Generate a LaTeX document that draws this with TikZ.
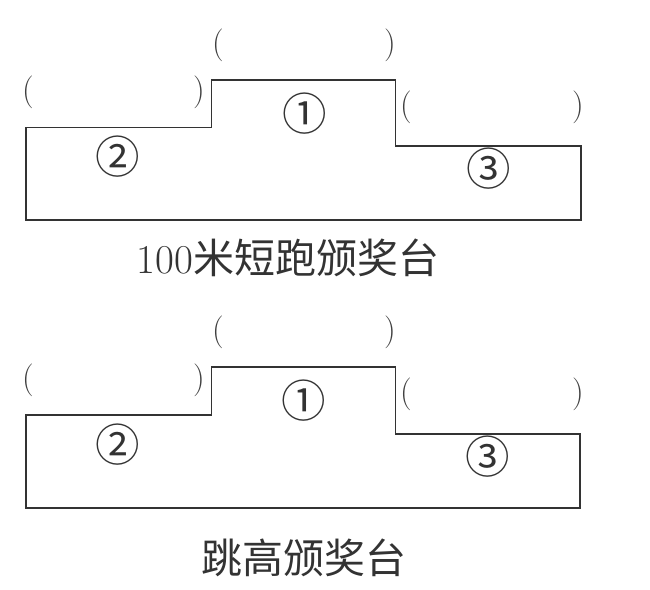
\documentclass[tikz,border=0pt]{standalone}
\usepackage{fontspec}
\newfontfamily\cjk{Noto Sans CJK SC}
\usetikzlibrary{positioning}

\begin{document}
\begin{tikzpicture}[
  x=0.03cm, y=-0.03cm,
  % Podium outline
  podium/.style={draw=black!80, line width=1.6pt, line join=miter},
  % Place numbers and brackets
  place/.style={inner sep=0pt, text=black!80, font=\cjk\fontsize{38}{40}\selectfont},
  bracket/.style={inner sep=0pt, text=black!75, font=\fontsize{28}{30}\selectfont},
  caption/.style={inner sep=0pt, text=black!80, font=\fontsize{35}{38}\selectfont}
]
\useasboundingbox (0,0) rectangle (650,589);

% 100m podium
\draw[podium] (26,220) -- (26,127.5) -- (211.5,127.5) -- (211.5,80) -- (395.5,80)
  -- (395.5,146) -- (581,146) -- (581,220) -- cycle;
\node[place] (firstA) at (305,114) {①};
\node[place] (secondA) at (118,157) {②};
\node[place] (thirdA) at (489,169) {③};
\node[bracket] (lbA) at (28,92) {(};
\node[bracket] (rbA) at (199,92) {)};
\node[bracket] (lfA) at (218,45) {(};
\node[bracket] (rfA) at (390,45) {)};
\node[bracket] (ltA) at (406,107) {(};
\node[bracket] (rtA) at (578,107) {)};
\node[caption] (capA) at (288,258) {100{\cjk 米短跑颁奖台}};

% High jump podium
\draw[podium] (26,508) -- (26,415) -- (211.5,415) -- (211.5,367) -- (395.5,367)
  -- (395.5,434) -- (580,434) -- (580,508) -- cycle;
\node[place] (firstB) at (304,401) {①};
\node[place] (secondB) at (118,445) {②};
\node[place] (thirdB) at (488,457) {③};
\node[bracket] (lbB) at (28,380) {(};
\node[bracket] (rbB) at (199,380) {)};
\node[bracket] (lfB) at (218,332) {(};
\node[bracket] (rfB) at (390,332) {)};
\node[bracket] (ltB) at (406,394) {(};
\node[bracket] (rtB) at (578,394) {)};
\node[caption] (capB) at (304,558) {\cjk 跳高颁奖台};

\end{tikzpicture}
\end{document}
